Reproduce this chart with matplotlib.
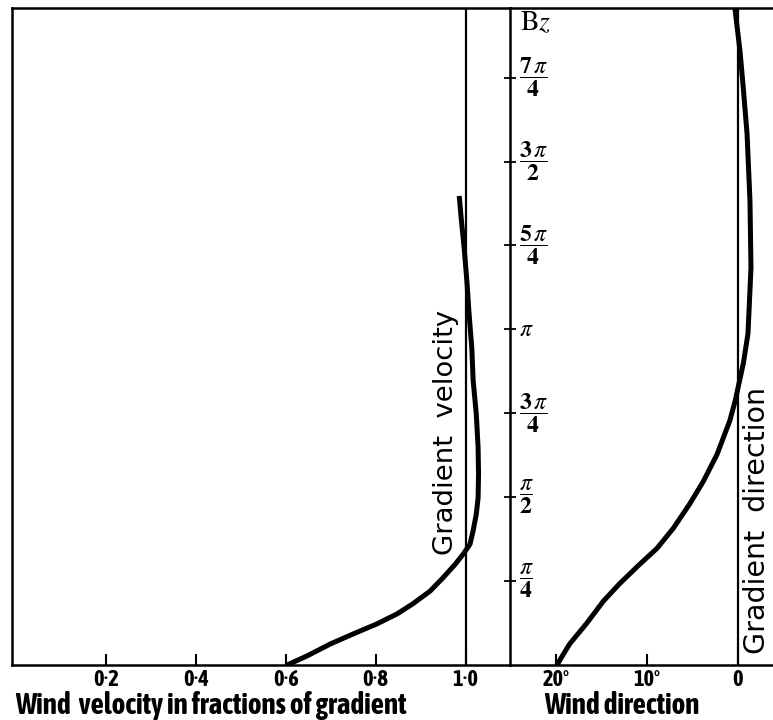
import numpy as np
import matplotlib
matplotlib.use("Agg")
import matplotlib.pyplot as plt
from matplotlib import font_manager as fm

plt.rcParams['mathtext.fontset'] = 'stix'

# use a narrow bold face for the axis labels when one is installed
bold_narrow = sorted({f.name for f in fm.fontManager.ttflist
                      if ('Narrow' in f.name or 'Condensed' in f.name)
                      and f.weight in ('bold', 700, 'semibold', 600)})
bold_font = bold_narrow[:1] + ['DejaVu Sans']
plain_font = ['DejaVu Sans']
tick_size = 16 if bold_narrow else 13

# height Bz, in units of pi/4
z_vel = [0, 0.107, 0.25, 0.37, 0.49, 0.61, 0.73, 0.88, 1.04, 1.20, 1.33,
         1.44, 1.60, 1.80, 1.99, 2.28, 2.59, 2.99, 3.39, 3.78, 4.18, 4.58,
         4.97, 5.29, 5.59]
# wind speed as a fraction of gradient wind
vel = [0.603, 0.647, 0.699, 0.750, 0.803, 0.848, 0.883, 0.921, 0.950, 0.977,
       0.996, 1.010, 1.017, 1.024, 1.028, 1.029, 1.028, 1.024, 1.017, 1.014,
       1.008, 1.003, 0.997, 0.991, 0.986]

z_dir = [0, 0.25, 0.50, 0.76, 0.97, 1.20, 1.39, 1.63, 1.92, 2.19, 2.51,
         2.91, 3.15, 3.30, 3.60, 3.95, 4.73, 5.53, 6.33, 6.92, 7.32, 7.82]
# angle between wind and gradient direction, degrees
direction = [19.9, 18.5, 16.6, 14.8, 13.0, 10.8, 8.9, 7.1, 5.3, 3.8, 2.3,
             0.9, 0.3, 0.0, -0.6, -1.1, -1.43, -1.32, -1.0, -0.55, -0.22, 0.33]

vel_ticks = [0.2, 0.4, 0.6, 0.8, 1.0]
vel_labels = ['0·2', '0·4', '0·6', '0·8', '1·0']
dir_ticks = [20, 10, 0]
dir_labels = ['20°', '10°', '0']
bz_ticks = [1, 2, 3, 4, 5, 6, 7]
bz_labels = [r'$\dfrac{\pi}{\mathbf{4}}$', r'$\dfrac{\pi}{\mathbf{2}}$',
             r'$\dfrac{\mathbf{3}\,\pi}{\mathbf{4}}$', r'$\pi$',
             r'$\dfrac{\mathbf{5}\,\pi}{\mathbf{4}}$',
             r'$\dfrac{\mathbf{3}\,\pi}{\mathbf{2}}$',
             r'$\dfrac{\mathbf{7}\,\pi}{\mathbf{4}}$']

W, H = 773, 720
fig = plt.figure(figsize=(W / 100, H / 100), dpi=100)
ax_v = fig.add_axes([12 / W, 55 / H, 498 / W, 657 / H])
ax_d = fig.add_axes([510 / W, 55 / H, 263 / W, 657 / H])

for ax in (ax_v, ax_d):
    ax.set_ylim(0, 7.83)
    for s in ax.spines.values():
        s.set_linewidth(1.8)
    ax.tick_params(axis='x', direction='in', length=8, width=1.5, pad=3)

# velocity panel
ax_v.plot(vel, z_vel, color='black', lw=3.6, solid_capstyle='butt')
ax_v.axvline(1.0, color='black', lw=1.6)
ax_v.set_xlim(-0.0091, 1.099)
ax_v.spines['right'].set_visible(False)
ax_v.set_yticks([])
ax_v.set_xticks(vel_ticks)
ax_v.set_xticklabels(vel_labels, family=bold_font, fontsize=tick_size,
                     fontweight='bold')
t_gv = ax_v.text(0.956, 2.77, 'Gradient  velocity', rotation=90, ha='center',
                 va='center', family=plain_font, fontsize=19)

# direction panel
ax_d.plot(direction, z_dir, color='black', lw=3.6, solid_capstyle='butt')
ax_d.axvline(0, color='black', lw=1.6)
ax_d.set_xlim(25.05, -3.85)
ax_d.spines['right'].set_visible(False)
ax_d.set_xticks(dir_ticks)
ax_d.set_xticklabels(dir_labels, family=bold_font, fontsize=tick_size,
                     fontweight='bold')
ax_d.set_yticks(bz_ticks)
ax_d.tick_params(axis='y', direction='inout', length=9, width=1.3, labelleft=False)
for t, lab in zip(bz_ticks, bz_labels):
    ax_d.text(24.1, t, lab, ha='left', va='center', fontsize=17)
ax_d.text(24.0, 7.66, r'$\mathrm{B}z$', ha='left', va='center', fontsize=20)
t_gd = ax_d.text(-2.1, 1.72, 'Gradient  direction', rotation=90, ha='center',
                 va='center', family=plain_font, fontsize=19)

t_wv = fig.text(15 / W, 1 - 706 / H, 'Wind  velocity in fractions of gradient',
                ha='left', va='center', family=bold_font, fontsize=20,
                fontweight='bold')
t_wd = fig.text(622 / W, 1 - 706 / H, 'Wind direction', ha='center', va='center',
                family=bold_font, fontsize=20, fontweight='bold')


def fit(text, length, vertical=False, max_size=21):
    # scale the font so the label spans the given number of pixels
    r = fig.canvas.get_renderer()
    bb = text.get_window_extent(r)
    cur = bb.height if vertical else bb.width
    text.set_fontsize(min(max_size, text.get_fontsize() * length / cur))


fit(t_wv, 460)
fit(t_wd, 180)
fit(t_gv, 245, vertical=True)
fit(t_gd, 268, vertical=True)

fig.savefig('out.png', dpi=100, facecolor='white')
